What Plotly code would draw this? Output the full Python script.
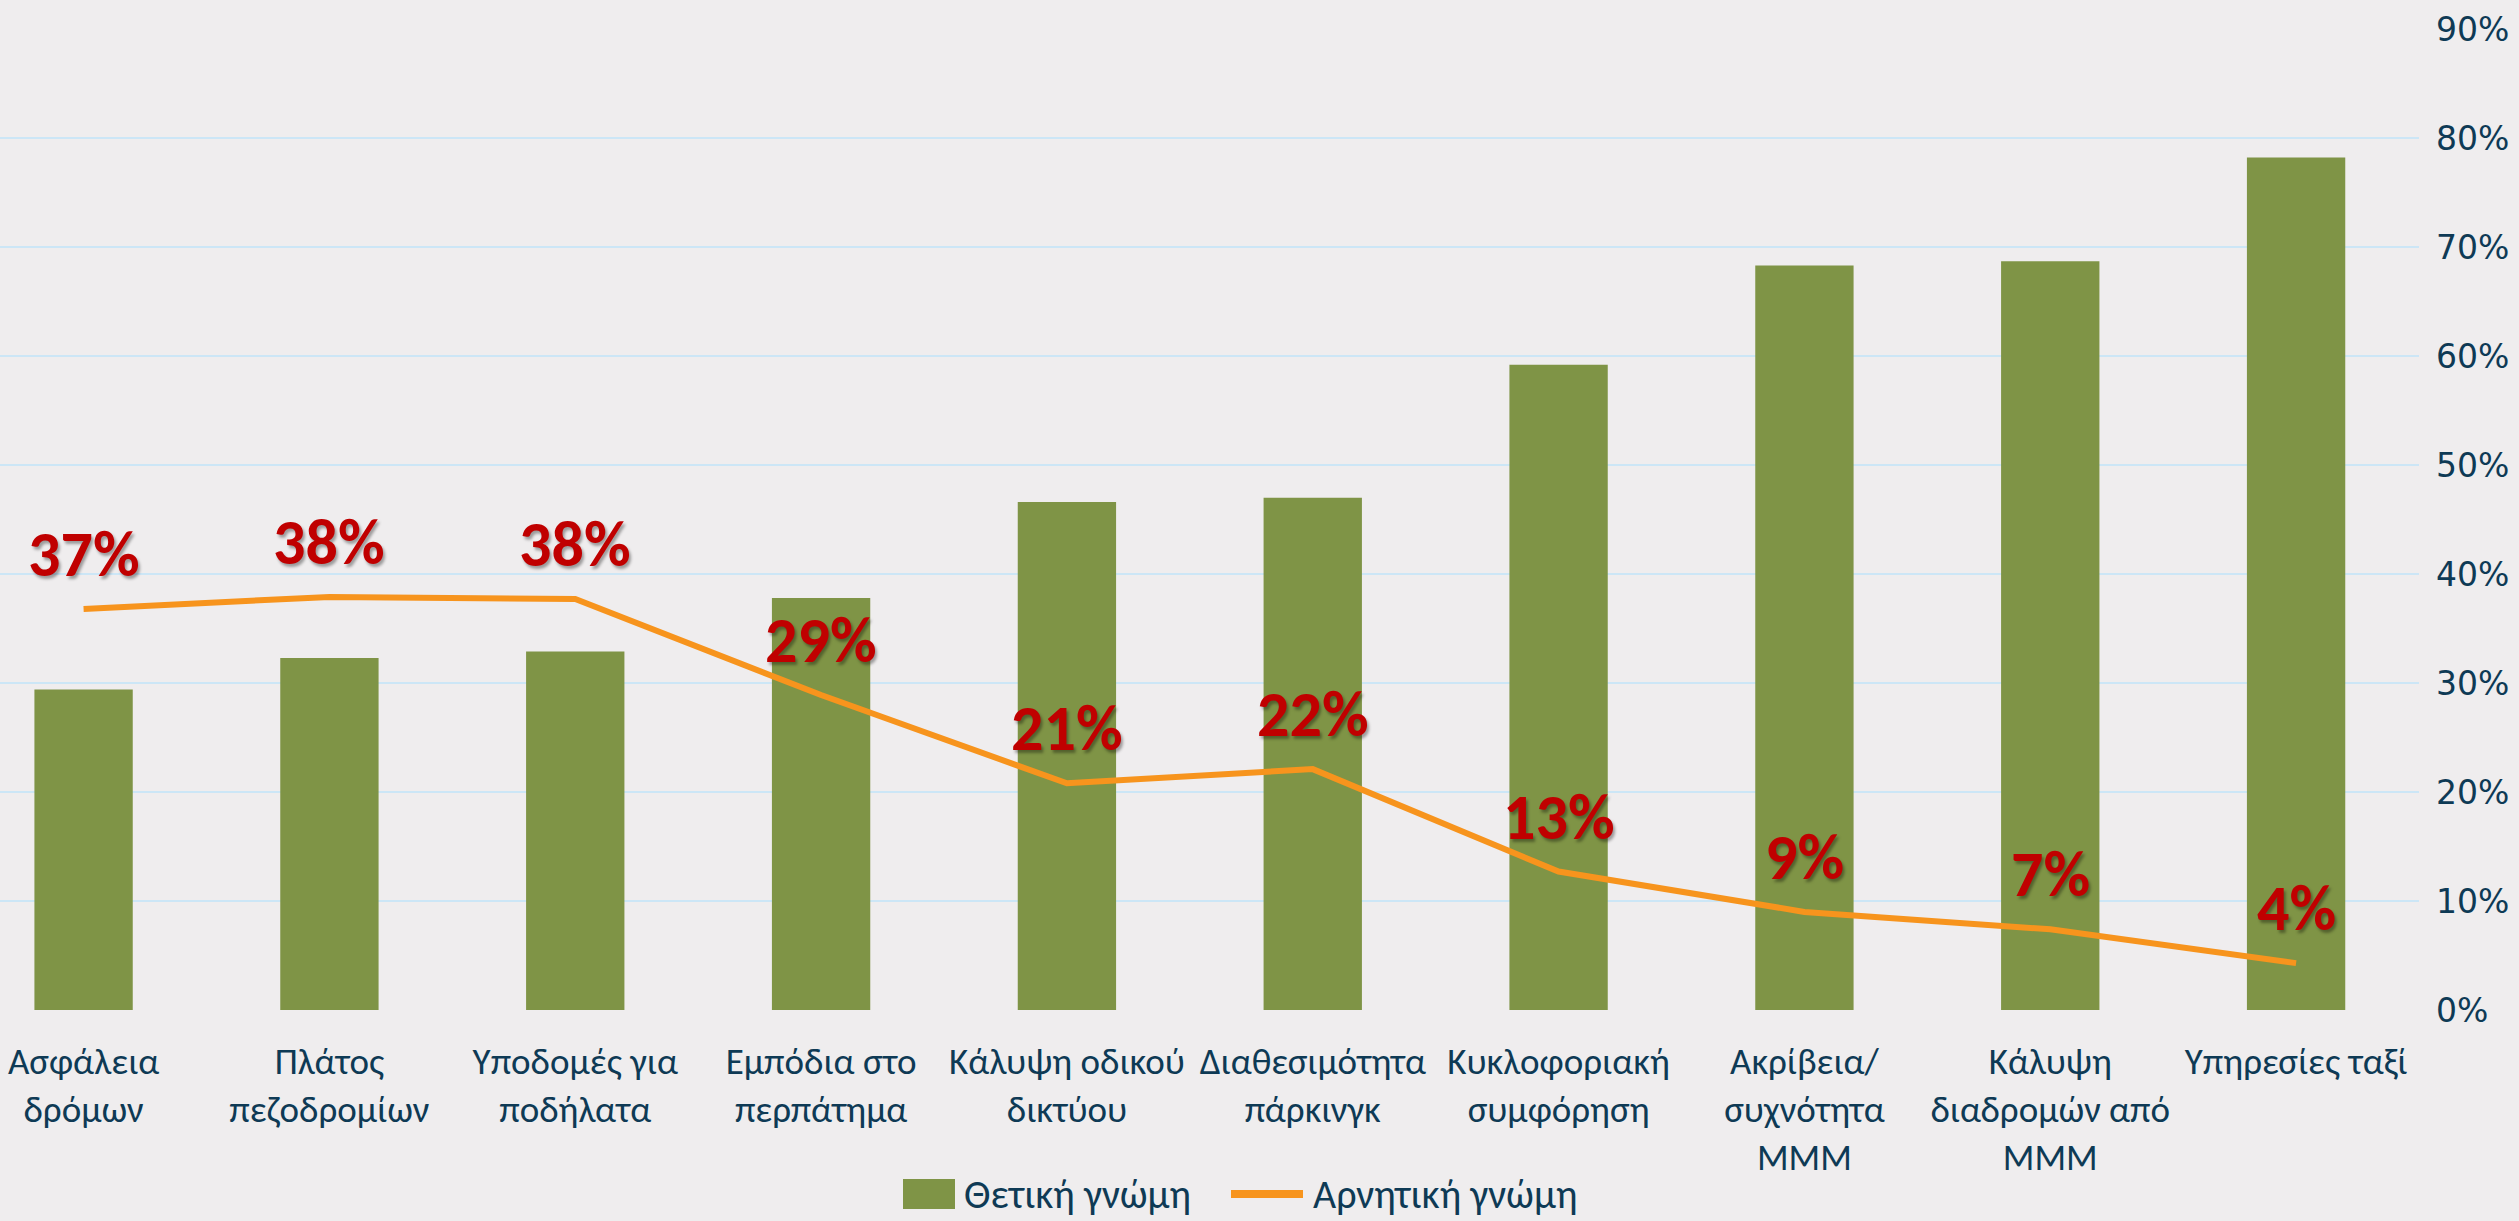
import plotly.graph_objects as go

categories = [
    "Ασφάλεια<br>δρόμων",
    "Πλάτος<br>πεζοδρομίων",
    "Υποδομές για<br>ποδήλατα",
    "Εμπόδια στο<br>περπάτημα",
    "Κάλυψη οδικού<br>δικτύου",
    "Διαθεσιμότητα<br>πάρκινγκ",
    "Κυκλοφοριακή<br>συμφόρηση",
    "Ακρίβεια/<br>συχνότητα<br>ΜΜΜ",
    "Κάλυψη<br>διαδρομών από<br>ΜΜΜ",
    "Υπηρεσίες ταξί",
]
positive = [0.294, 0.323, 0.329, 0.378, 0.466, 0.470, 0.592, 0.683, 0.687, 0.782]
negative = [0.368, 0.379, 0.377, 0.289, 0.208, 0.221, 0.127, 0.090, 0.074, 0.043]
series_names = ["Θετική γνώμη", "Αρνητική γνώμη"]
tick_vals = [0, 0.1, 0.2, 0.3, 0.4, 0.5, 0.6, 0.7, 0.8, 0.9]
tick_text = ["0%", "10%", "20%", "30%", "40%", "50%", "60%", "70%", "80%", "90%"]

GREEN = "#7F9446"
ORANGE = "#F7941D"
text_color = "#0E3A55"
font_main = "Carlito, Roboto Condensed, sans-serif"

fig = go.Figure()
fig.add_trace(go.Bar(
    x=categories, y=positive, name=series_names[0],
    marker=dict(color=GREEN, line=dict(width=0)),
    width=0.4, showlegend=False,
))
fig.add_trace(go.Scatter(
    x=categories, y=negative, name=series_names[1],
    mode="lines", line=dict(color=ORANGE, width=6),
    showlegend=False,
))

# red percentage labels above the line points
for cat, v in zip(categories, negative):
    fig.add_annotation(
        x=cat, y=v, text=f"{round(v * 100)}%", showarrow=False,
        yanchor="middle", yshift=55,
        font=dict(family=font_main, size=64, color="#C00000", weight="bold",
                  shadow="2px 3px 3px rgba(0,0,0,0.35)"),
    )

# legend drawn by hand so the symbols can be as big as the original
plot_w = 2419.0
plot_h = 981.0
leg_y = -184 / plot_h
fig.add_shape(type="rect", xref="paper", yref="paper",
              x0=903 / plot_w, x1=955 / plot_w,
              y0=leg_y - 15 / plot_h, y1=leg_y + 15 / plot_h,
              fillcolor=GREEN, line=dict(width=0))
fig.add_shape(type="line", xref="paper", yref="paper",
              x0=1231 / plot_w, x1=1303 / plot_w, y0=leg_y, y1=leg_y,
              line=dict(color=ORANGE, width=8))
for name, xpix in zip(series_names, [962, 1311]):
    fig.add_annotation(
        xref="paper", yref="paper", x=xpix / plot_w, y=leg_y,
        xanchor="left", yanchor="middle", showarrow=False, text=name,
        font=dict(family=font_main, size=40, color=text_color),
    )

fig.update_layout(
    width=2519, height=1221,
    margin=dict(l=0, r=100, t=29, b=211),
    paper_bgcolor="#EFEDEE",
    plot_bgcolor="#EFEDEE",
    font=dict(family=font_main, color=text_color, size=37),
    showlegend=False,
    xaxis=dict(
        range=[-0.34, 9.5], showgrid=False, zeroline=False, showline=False,
        tickfont=dict(size=37, color=text_color, family=font_main),
        ticks="", tickangle=0, ticklabelstandoff=26,
    ),
    yaxis=dict(
        range=[0, 0.9], side="right", tickvals=tick_vals, ticktext=tick_text,
        showgrid=True, gridcolor="#CCE6F6", gridwidth=2, zeroline=False,
        showline=False, ticklabelstandoff=16,
        tickfont=dict(family="DejaVu Sans, Verdana, sans-serif", size=33, color=text_color),
    ),
)

fig.write_html("out.html", config={"displayModeBar": False},
               post_script="document.body.style.margin='0px';")
